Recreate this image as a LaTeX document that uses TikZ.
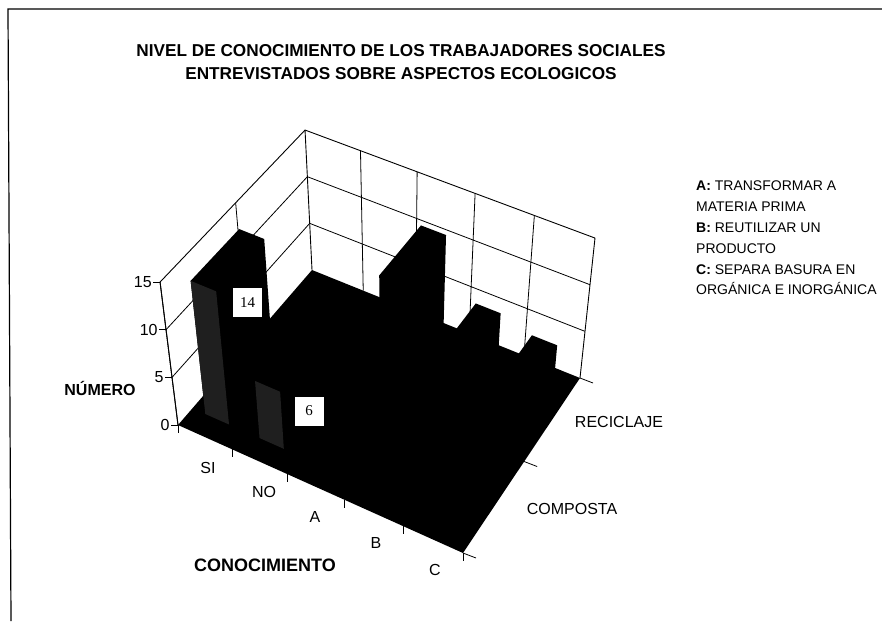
\documentclass[tikz,border=0pt]{standalone}
\usepackage{fontspec}
\setmainfont{Liberation Sans}
\newfontfamily\serifnum{Liberation Serif}
\newcommand\mkpt[4]{%
  \pgfmathsetmacro\pS{(#2)/5}%
  \pgfmathsetmacro\pT{(#3)/2}%
  \pgfmathsetmacro\pW{1-0.05919*\pS+0.08927*\pT}%
  \pgfmathsetmacro\pX{(257.59*\pS+161.85*\pT+178)/\pW}%
  \pgfmathsetmacro\pY{(95.27*\pS-130.90*\pT+425)/\pW}%
  \pgfmathsetmacro\pXX{\pX+0.00547*(\pX-397)*(#4)}%
  \pgfmathsetmacro\pYY{\pY-(9.53-0.2*\pT)*(#4)}%
  \coordinate (#1) at (\pXX,\pYY);%
}
% u0 u1 v0 v1 h name
\newcommand\colbox[6]{%
  \mkpt{#6a}{#1}{#3}{0}\mkpt{#6b}{#1}{#3}{#5}\mkpt{#6c}{#1}{#4}{#5}%
  \mkpt{#6d}{#2}{#4}{#5}\mkpt{#6e}{#2}{#4}{0}\mkpt{#6f}{#2}{#3}{0}%
  \mkpt{#6g}{#2}{#3}{#5}%
  \fill[black] (#6a)--(#6b)--(#6c)--(#6d)--(#6e)--(#6f)--cycle;
}
\tikzset{
  wall/.style={line width=0.9pt, line join=round},
  grid/.style={line width=0.8pt},
  tick/.style={line width=0.8pt},
  lab/.style={font=\fontsize{16}{16}\selectfont, inner sep=0pt},
  blab/.style={font=\bfseries\fontsize{16}{16}\selectfont, inner sep=0pt},
  dlab/.style={fill=white, inner sep=0pt, minimum width=29pt, minimum height=29pt, font=\serifnum\fontsize{15}{15}\selectfont},
}
\begin{document}
\begin{tikzpicture}[x=1pt,y=-1pt]
\useasboundingbox (0,0) rectangle (882,621);
% frame
\coordinate (fa) at (882,9);
\coordinate (fb) at (8,9);
\coordinate (fc) at (11,621);
\draw[line width=1.2pt] (fa) -- (fb) -- (fc);
% title
\node[font=\bfseries\fontsize{17.2}{23}\selectfont, align=center, inner sep=0pt] (title) at (401,62)
  {NIVEL DE CONOCIMIENTO DE LOS TRABAJADORES SOCIALES\\ENTREVISTADOS SOBRE ASPECTOS ECOLOGICOS};
% walls
\mkpt{o}{0}{0}{0}\mkpt{ot}{0}{0}{15}\mkpt{bl}{0}{2}{0}\mkpt{blt}{0}{2}{15}
\mkpt{br}{5}{2}{0}\mkpt{brt}{5}{2}{15}\mkpt{fr}{5}{0}{0}
\foreach \h in {5,10} {
  \mkpt{ga}{0}{0}{\h}\mkpt{gb}{0}{2}{\h}\mkpt{gc}{5}{2}{\h}
  \draw[grid] (ga) -- (gb) -- (gc);
}
\mkpt{va}{0}{1}{0}\mkpt{vb}{0}{1}{15}
\draw[grid] (va) -- (vb);
\foreach \u in {1,2,3,4} {
  \mkpt{va}{\u}{2}{0}\mkpt{vb}{\u}{2}{15}
  \draw[grid] (va) -- (vb);
}
\draw[wall] (o) -- (ot) -- (blt) -- (brt) -- (br);
\draw[wall] (bl) -- (blt);
% floor
\fill[black] (o) -- (bl) -- (br) -- (fr) -- cycle;
% back row: RECICLAJE
\colbox{2.24}{2.68}{1.2}{1.85}{11}{ra}
\colbox{3.24}{3.68}{1.2}{1.85}{5}{rb}
\colbox{4.24}{4.68}{1.2}{1.85}{4}{rc}
% front row: COMPOSTA
\colbox{0.24}{0.68}{0.2}{0.85}{14}{cs}
\fill[black!88] (csa) -- (csb) -- (csg) -- (csf) -- cycle;
\colbox{1.24}{1.68}{0.2}{0.85}{6}{cn}
\fill[black!88] (cna) -- (cnb) -- (cng) -- (cnf) -- cycle;
% data labels
\node[dlab] (l14) at (247.5,302.5) {14};
\node[dlab] (l6) at (309,411) {6};
% vertical axis
\draw[wall] (o) -- (ot);
\foreach \h/\nm in {0/z0,5/z5,10/z10,15/z15} {
  \mkpt{\nm}{0}{0}{\h}
  \draw[tick] (\nm) -- ++(-7,0) node[lab, anchor=east, xshift=-1pt] (\nm l) {\h};
}
% category axis ticks
\foreach \u/\nm in {0/k0,1/k1,2/k2,3/k3,4/k4,5/k5} {
  \mkpt{\nm}{\u}{0}{0}
  \draw[tick] (\nm) -- ++(0,8);
}
% depth axis ticks
\foreach \v/\nm in {0/d0,1/d1,2/d2} {
  \mkpt{\nm}{5}{\v}{0}
  \draw[tick] (\nm) -- ++(13,5);
}
% category labels
\node[lab] (cSI) at (208,468) {SI};
\node[lab] (cNO) at (264,492) {NO};
\node[lab] (cA) at (315,517) {A};
\node[lab] (cB) at (376,543) {B};
\node[lab] (cC) at (435,570) {C};
\node[font=\bfseries\fontsize{18}{18}\selectfont, inner sep=0pt] (xt) at (265,565) {CONOCIMIENTO};
\node[blab] (yt) at (100,388) {NÚMERO};
\node[lab] (sR) at (619,422) {RECICLAJE};
\node[lab] (sC) at (572,509) {COMPOSTA};
% legend
\node[anchor=north west, align=left, inner sep=0pt, font=\fontsize{14}{20.8}\selectfont] (leg) at (696,181)
  {\textbf{A:} TRANSFORMAR A\\MATERIA PRIMA\\\textbf{B:} REUTILIZAR UN\\PRODUCTO\\\textbf{C:} SEPARA BASURA EN\\ORGÁNICA E INORGÁNICA};
\end{tikzpicture}
\end{document}
